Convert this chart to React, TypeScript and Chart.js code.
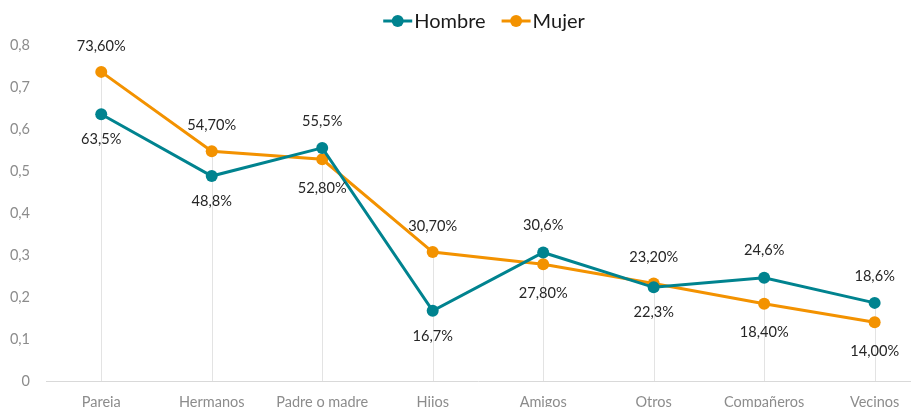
import React, { useEffect, useRef } from "react";
import { Chart, registerables } from "chart.js";

Chart.register(...registerables);

const categories = ["Pareja", "Hermanos", "Padre o madre", "Hijos", "Amigos", "Otros", "Compañeros", "Vecinos"];
const hombre = [0.635, 0.488, 0.555, 0.167, 0.306, 0.223, 0.246, 0.186];
const mujer = [0.736, 0.547, 0.528, 0.307, 0.278, 0.232, 0.184, 0.14];
const hombreLabels = ["63,5%", "48,8%", "55,5%", "16,7%", "30,6%", "22,3%", "24,6%", "18,6%"];
const mujerLabels = ["73,60%", "54,70%", "52,80%", "30,70%", "27,80%", "23,20%", "18,40%", "14,00%"];
const yTicks = [0, 0.1, 0.2, 0.3, 0.4, 0.5, 0.6, 0.7, 0.8];

const TEAL = "#00838f";
const ORANGE = "#f39200";
const FONT = "Lato, 'Open Sans', sans-serif";

const dropLines = {
  id: "dropLines",
  beforeDatasetsDraw(chart: any) {
    const { ctx, scales } = chart;
    const x = scales.x;
    const y = scales.y;
    ctx.save();
    ctx.strokeStyle = "#e3e3e3";
    ctx.lineWidth = 1;
    categories.forEach((_, i) => {
      const top = Math.max(hombre[i], mujer[i]);
      const px = Math.round(x.getPixelForValue(i)) + 0.5;
      ctx.beginPath();
      ctx.moveTo(px, y.getPixelForValue(top));
      ctx.lineTo(px, y.getPixelForValue(0));
      ctx.stroke();
    });
    ctx.restore();
  },
};

const valueLabels = {
  id: "valueLabels",
  afterDatasetsDraw(chart: any) {
    const { ctx, scales } = chart;
    const x = scales.x;
    const y = scales.y;
    ctx.save();
    ctx.font = `14.6px ${FONT}`;
    ctx.fillStyle = "#262626";
    ctx.textAlign = "center";
    ctx.textBaseline = "middle";
    categories.forEach((_, i) => {
      const px = x.getPixelForValue(i);
      const hAbove = hombre[i] >= mujer[i];
      const hy = y.getPixelForValue(hombre[i]);
      const my = y.getPixelForValue(mujer[i]);
      ctx.fillText(hombreLabels[i], px, hy + (hAbove ? -27 : 25));
      ctx.fillText(mujerLabels[i], px, my + (hAbove ? 29 : -26));
    });
    ctx.restore();
  },
};

const topLegend = {
  id: "topLegend",
  afterDraw(chart: any) {
    const { ctx } = chart;
    const items = chart.data.datasets.map((ds: any) => ({ text: ds.label, color: ds.borderColor }));
    ctx.save();
    ctx.font = `20px ${FONT}`;
    ctx.textBaseline = "middle";
    ctx.textAlign = "left";
    const cy = 21;
    const markerW = 29;
    const gapText = 2;
    const gapItem = 16;
    const widths = items.map((it: any) => markerW + gapText + ctx.measureText(it.text).width);
    const total = widths.reduce((a: number, b: number) => a + b, 0) + gapItem * (items.length - 1);
    const center = (chart.chartArea.left + chart.chartArea.right) / 2 + 6;
    let xPos = center - total / 2;
    items.forEach((it: any, i: number) => {
      ctx.strokeStyle = it.color;
      ctx.fillStyle = it.color;
      ctx.lineWidth = 3;
      ctx.beginPath();
      ctx.moveTo(xPos, cy);
      ctx.lineTo(xPos + markerW, cy);
      ctx.stroke();
      ctx.beginPath();
      ctx.arc(xPos + markerW / 2, cy, 6, 0, Math.PI * 2);
      ctx.fill();
      ctx.fillStyle = "#1a1a1a";
      ctx.fillText(it.text, xPos + markerW + gapText, cy + 1);
      xPos += widths[i] + gapItem;
    });
    ctx.restore();
  },
};

export default function App() {
  const ref = useRef<HTMLCanvasElement>(null);
  useEffect(() => {
    if (!ref.current) return;
    const chart = new Chart(ref.current, {
      type: "line",
      data: {
        datasets: [
          {
            label: "Hombre",
            data: hombre.map((v, i) => ({ x: i, y: v })),
            borderColor: TEAL,
            backgroundColor: TEAL,
            borderWidth: 3,
            pointRadius: 6,
            pointHoverRadius: 6,
            pointBorderWidth: 0,
          },
          {
            label: "Mujer",
            data: mujer.map((v, i) => ({ x: i, y: v })),
            borderColor: ORANGE,
            backgroundColor: ORANGE,
            borderWidth: 3,
            pointRadius: 6,
            pointHoverRadius: 6,
            pointBorderWidth: 0,
          },
        ],
      },
      options: {
        animation: false,
        responsive: false,
        maintainAspectRatio: false,
        layout: { padding: { top: 45, bottom: 0, right: 0, left: 0 } },
        plugins: {
          tooltip: { enabled: false },
          legend: { display: false },
        },
        scales: {
          x: {
            type: "linear",
            min: -0.5,
            max: 7.32,
            bounds: "data",
            afterBuildTicks: (scale: any) => {
              scale.ticks = categories.map((_, i) => ({ value: i }));
            },
            afterFit: (scale: any) => {
              scale.height = 39;
            },
            grid: { display: false, drawTicks: false },
            border: { display: true, color: "#d9d9d9", width: 1 },
            ticks: {
              autoSkip: false,
              maxRotation: 0,
              padding: 13,
              color: "#8c8c8c",
              font: { size: 14.5, family: FONT },
              callback: (v: any) => categories[Math.round(Number(v))] ?? "",
            },
          },
          y: {
            min: 0,
            max: 0.8,
            afterBuildTicks: (scale: any) => {
              scale.ticks = yTicks.map((v) => ({ value: v }));
            },
            afterFit: (scale: any) => {
              scale.width = 46;
            },
            grid: { display: false, drawTicks: false },
            border: { display: false },
            ticks: {
              padding: 16,
              color: "#8c8c8c",
              font: { size: 14.5, family: FONT },
              callback: (v: any) => String(Math.round(Number(v) * 10) / 10).replace(".", ","),
            },
          },
        },
      },
      plugins: [dropLines, valueLabels, topLegend],
    });
    return () => chart.destroy();
  }, []);
  return (
    <div style={{ position: "fixed", left: 0, top: 0, width: 916, height: 407, overflow: "hidden", background: "#fff" }}>
      <canvas ref={ref} width={916} height={420} style={{ display: "block", width: 916, height: 420 }} />
    </div>
  );
}
